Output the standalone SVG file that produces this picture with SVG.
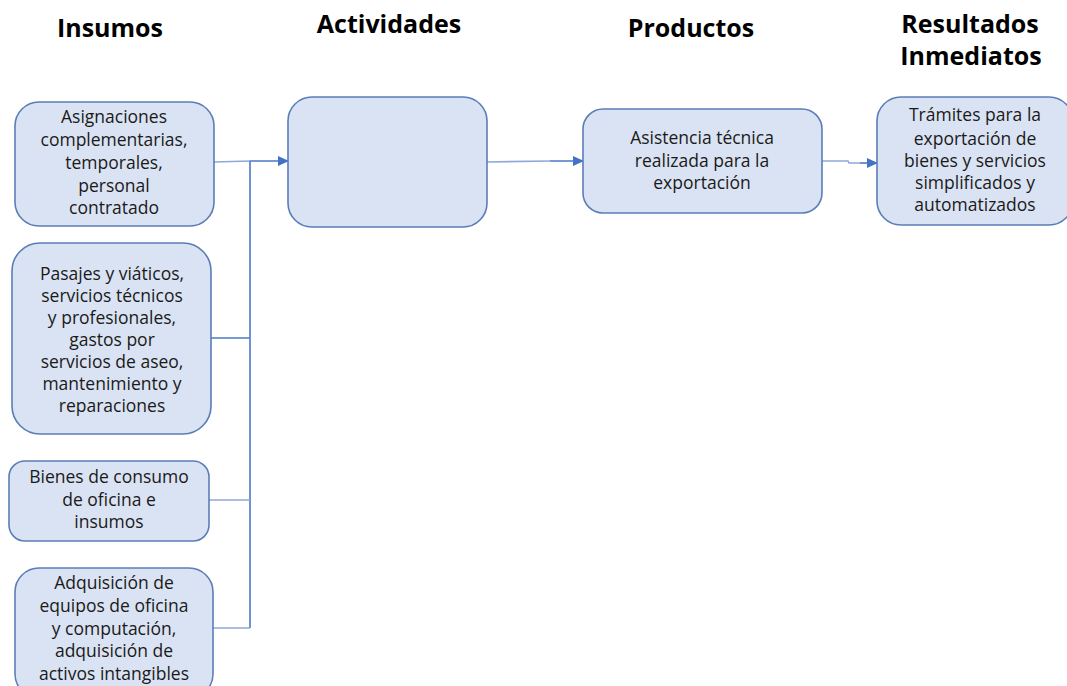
<svg xmlns="http://www.w3.org/2000/svg" width="1067" height="686" viewBox="0 0 1067 686">
<style>
.box{fill:#dae3f3;stroke:#5a7db6;stroke-width:1.6}
.hdr{font-family:"Open Sans","Liberation Sans",sans-serif;font-weight:bold;font-size:25px;fill:#000;text-anchor:middle}
.t{font-family:"Open Sans","Liberation Sans",sans-serif;font-size:17.5px;fill:#1a1a1a;text-anchor:middle}
.c{fill:none;stroke:#4a78c8;stroke-width:1.6}
.cl{fill:none;stroke:#8fa9d9;stroke-width:1.6}
</style>
<defs>
<marker id="ah" markerWidth="11" markerHeight="10" refX="10" refY="5" orient="auto" markerUnits="userSpaceOnUse">
<path d="M0,0 L11,5 L0,10 Z" fill="#4472c4"/>
</marker>
</defs>
<rect width="1067" height="686" fill="#fff"/>
<g id="headers">
<text class="hdr" x="110" y="37">Insumos</text>
<text class="hdr" x="389" y="33">Actividades</text>
<text class="hdr" x="691" y="37">Productos</text>
<text class="hdr" x="970" y="33">Resultados</text>
<text class="hdr" x="971" y="65">Inmediatos</text>
</g>
<g id="connectors">
<path class="cl" d="M214,162 L250,161"/>
<path class="c" d="M250,161 L288,161" marker-end="url(#ah)"/>
<path class="c" d="M250,161 L250,628"/>
<path class="c" d="M211,338 L250,338"/>
<path class="cl" d="M209,500 L250,500"/>
<path class="cl" d="M213,628 L250,628"/>
<path class="cl" d="M487,162 L550,161"/>
<path class="c" d="M550,161 L583,161" marker-end="url(#ah)"/>
<path class="cl" d="M822,161 L848,161 L849,163 L860,163"/>
<path class="c" d="M860,163 L877,163" marker-end="url(#ah)"/>
</g>
<g id="n1">
<rect class="box" x="15" y="102" width="199" height="124" rx="24"/>
<text class="t" x="114" y="123">Asignaciones</text>
<text class="t" x="114" y="146">complementarias,</text>
<text class="t" x="114" y="169">temporales,</text>
<text class="t" x="114" y="192">personal</text>
<text class="t" x="114" y="214">contratado</text>
</g>
<g id="n2">
<rect class="box" x="12" y="243" width="199" height="191" rx="28"/>
<text class="t" x="112" y="280">Pasajes y viáticos,</text>
<text class="t" x="112" y="302">servicios técnicos</text>
<text class="t" x="112" y="324">y profesionales,</text>
<text class="t" x="112" y="346">gastos por</text>
<text class="t" x="112" y="368">servicios de aseo,</text>
<text class="t" x="112" y="390">mantenimiento y</text>
<text class="t" x="112" y="412">reparaciones</text>
</g>
<g id="n3">
<rect class="box" x="9" y="461" width="200" height="80" rx="16"/>
<text class="t" x="109" y="483">Bienes de consumo</text>
<text class="t" x="109" y="506">de oficina e</text>
<text class="t" x="109" y="528">insumos</text>
</g>
<g id="n4">
<rect class="box" x="15" y="568" width="198" height="130" rx="24"/>
<text class="t" x="114" y="589">Adquisición de</text>
<text class="t" x="114" y="612">equipos de oficina</text>
<text class="t" x="114" y="635">y computación,</text>
<text class="t" x="114" y="657">adquisición de</text>
<text class="t" x="114" y="680">activos intangibles</text>
</g>
<g id="n5">
<rect class="box" x="288" y="97" width="199" height="130" rx="24"/>
</g>
<g id="n6">
<rect class="box" x="583" y="109" width="239" height="104" rx="20"/>
<text class="t" x="702" y="144">Asistencia técnica</text>
<text class="t" x="702" y="167">realizada para la</text>
<text class="t" x="702" y="189">exportación</text>
</g>
<g id="n7">
<rect class="box" x="877" y="97" width="196" height="128" rx="24"/>
<text class="t" x="975" y="121">Trámites para la</text>
<text class="t" x="975" y="145">exportación de</text>
<text class="t" x="975" y="167">bienes y servicios</text>
<text class="t" x="975" y="189">simplificados y</text>
<text class="t" x="975" y="211">automatizados</text>
</g>
</svg>
